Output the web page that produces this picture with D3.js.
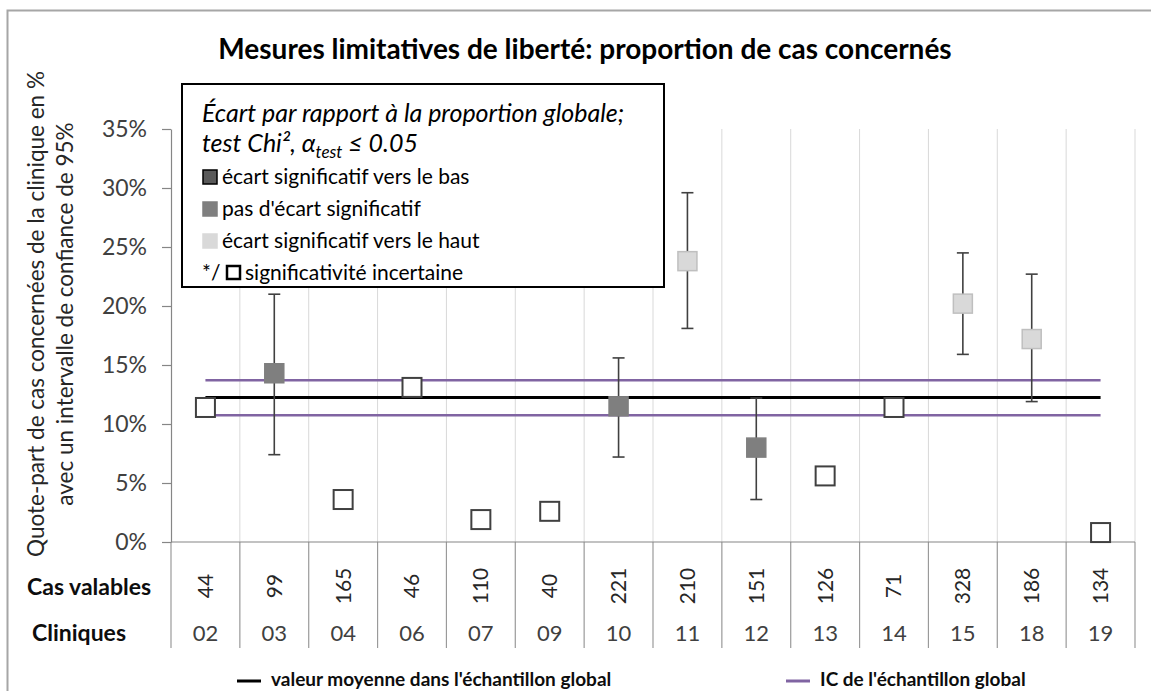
<!DOCTYPE html>
<html lang="fr">
<head>
    <meta charset="UTF-8">
    <title>Mesures limitatives de liberté</title>
    <style>
        body {
            margin: 0;
            padding: 0;
            background: #ffffff;
            font-family: Lato, "Open Sans", sans-serif;
        }
        svg text {
            font-family: Lato, "Open Sans", sans-serif;
        }
    </style>
</head>
<body>
<svg id="chart"></svg>

<script src="https://d3js.org/d3.v7.min.js"></script>
<script>
    // values
    var clinics = ["02", "03", "04", "06", "07", "09", "10", "11", "12", "13", "14", "15", "18", "19"];
    var validCases = [44, 99, 165, 46, 110, 40, 221, 210, 151, 126, 71, 328, 186, 134];
    var proportion = [11.4, 14.3, 3.6, 13.1, 1.9, 2.6, 11.5, 23.8, 8.0, 5.6, 11.4, 20.2, 17.2, 0.8];
    var ciLow = [null, 7.4, null, null, null, null, 7.2, 18.1, 3.6, null, null, 15.9, 11.9, null];
    var ciHigh = [null, 21.0, null, null, null, null, 15.6, 29.6, 12.2, null, null, 24.5, 22.7, null];
    var significance = ["uncertain", "none", "uncertain", "uncertain", "uncertain", "uncertain", "none",
        "above", "none", "uncertain", "uncertain", "above", "above", "uncertain"];
    var globalMean = 12.25;
    var globalCiLow = 10.75;
    var globalCiHigh = 13.7;
    var yTicks = [0, 5, 10, 15, 20, 25, 30, 35];

    var width = 1151, height = 691;
    var plot = {left: 171, right: 1135, top: 129, bottom: 542};
    var tableBottom = 648;

    var fills = {below: "#595959", none: "#7f7f7f", above: "#d9d9d9", uncertain: "#ffffff"};
    var strokes = {below: "#000000", none: "#7f7f7f", above: "#bfbfbf", uncertain: "#404040"};

    var data = clinics.map(function (c, i) {
        return {clinic: c, n: validCases[i], p: proportion[i], lo: ciLow[i], hi: ciHigh[i], sig: significance[i]};
    });

    var svg = d3.select("#chart")
        .attr("width", width)
        .attr("height", height);

    svg.append("rect")
        .attr("width", width).attr("height", height)
        .attr("fill", "#ffffff");

    // outer chart frame (right and bottom run off the picture)
    svg.append("rect")
        .attr("x", 7.5).attr("y", 10.5)
        .attr("width", 1200).attr("height", 1000)
        .attr("fill", "none")
        .attr("stroke", "#a6a6a6")
        .attr("stroke-width", 2);

    var x = d3.scaleBand()
        .domain(clinics)
        .range([plot.left, plot.right]);

    var y = d3.scaleLinear()
        .domain([0, 35])
        .range([plot.bottom, plot.top]);

    var bounds = d3.range(clinics.length + 1).map(function (i) {
        return plot.left + i * x.bandwidth();
    });
    var cx = function (d) { return x(d.clinic) + x.bandwidth() / 2; };

    // vertical grid lines
    svg.append("g").selectAll("line")
        .data(bounds.slice(1))
        .enter().append("line")
        .attr("x1", d => d).attr("x2", d => d)
        .attr("y1", plot.top).attr("y2", plot.bottom)
        .attr("stroke", "#d9d9d9")
        .attr("stroke-width", 1);

    // table dividers under the axis
    svg.append("g").selectAll("line")
        .data(bounds)
        .enter().append("line")
        .attr("x1", d => d).attr("x2", d => d)
        .attr("y1", plot.bottom).attr("y2", tableBottom)
        .attr("stroke", "#9a9a9a")
        .attr("stroke-width", 1.2);

    // y axis
    var yAxis = svg.append("g")
        .attr("transform", "translate(" + plot.left + ",0)")
        .call(d3.axisLeft(y).tickValues(yTicks).tickFormat(d => d + "%").tickSize(9).tickSizeOuter(0).tickPadding(15));
    yAxis.select(".domain").attr("stroke", "#868686").attr("stroke-width", 1.2);
    yAxis.selectAll(".tick line").attr("stroke", "#868686").attr("stroke-width", 1.2);
    yAxis.selectAll(".tick text")
        .attr("fill", "#404040")
        .style("font-size", "23px");

    // x axis line at 0%
    svg.append("line")
        .attr("x1", plot.left).attr("x2", plot.right)
        .attr("y1", y(0)).attr("y2", y(0))
        .attr("stroke", "#868686")
        .attr("stroke-width", 1.2);

    // reference lines for the global sample
    var xFirst = x(clinics[0]) + x.bandwidth() / 2;
    var xLast = x(clinics[clinics.length - 1]) + x.bandwidth() / 2;
    var refLines = [
        {v: globalCiHigh, color: "#8064a2", w: 2.5},
        {v: globalCiLow, color: "#8064a2", w: 2.5},
        {v: globalMean, color: "#000000", w: 3}
    ];
    svg.append("g").selectAll("line")
        .data(refLines)
        .enter().append("line")
        .attr("x1", xFirst).attr("x2", xLast)
        .attr("y1", d => y(d.v)).attr("y2", d => y(d.v))
        .attr("stroke", d => d.color)
        .attr("stroke-width", d => d.w);

    // error bars
    var withCi = data.filter(d => d.lo !== null);
    var eb = svg.append("g").attr("stroke", "#404040").attr("stroke-width", 1.6);
    eb.selectAll(".stem")
        .data(withCi)
        .enter().append("line")
        .attr("x1", cx).attr("x2", cx)
        .attr("y1", d => y(d.lo)).attr("y2", d => y(d.hi));
    eb.selectAll(".capLo")
        .data(withCi)
        .enter().append("line")
        .attr("x1", d => cx(d) - 6).attr("x2", d => cx(d) + 6)
        .attr("y1", d => y(d.lo)).attr("y2", d => y(d.lo));
    eb.selectAll(".capHi")
        .data(withCi)
        .enter().append("line")
        .attr("x1", d => cx(d) - 6).attr("x2", d => cx(d) + 6)
        .attr("y1", d => y(d.hi)).attr("y2", d => y(d.hi));

    // markers
    var ms = 19;
    svg.append("g").selectAll("rect")
        .data(data)
        .enter().append("rect")
        .attr("x", d => cx(d) - ms / 2)
        .attr("y", d => y(d.p) - ms / 2)
        .attr("width", ms).attr("height", ms)
        .attr("fill", d => fills[d.sig])
        .attr("stroke", d => strokes[d.sig])
        .attr("stroke-width", d => d.sig === "uncertain" ? 2 : 1.5);

    // table rows
    svg.append("g").selectAll("text")
        .data(data)
        .enter().append("text")
        .attr("transform", d => "translate(" + cx(d) + ",586) rotate(-90)")
        .attr("text-anchor", "middle")
        .attr("dy", "0.35em")
        .attr("fill", "#262626")
        .style("font-size", "21px")
        .text(d => d.n);

    svg.append("g").selectAll("text")
        .data(data)
        .enter().append("text")
        .attr("x", cx)
        .attr("y", 633)
        .attr("text-anchor", "middle")
        .attr("dy", "0.35em")
        .attr("fill", "#404040")
        .style("font-size", "22px")
        .text(d => d.clinic);

    svg.append("text")
        .attr("x", 27).attr("y", 587).attr("dy", "0.35em")
        .style("font-size", "23px").style("font-weight", "bold")
        .attr("fill", "#0d0d0d")
        .text("Cas valables");
    svg.append("text")
        .attr("x", 32).attr("y", 633).attr("dy", "0.35em")
        .style("font-size", "23px").style("font-weight", "bold")
        .attr("fill", "#0d0d0d")
        .text("Cliniques");

    // title
    svg.append("text")
        .attr("x", 585).attr("y", 59)
        .attr("text-anchor", "middle")
        .style("font-size", "28px").style("font-weight", "bold")
        .attr("fill", "#000000")
        .text("Mesures limitatives de liberté: proportion de cas concernés");

    // y axis title
    var yTitle = ["Quote-part de cas concernées de la clinique en %", "avec un intervalle de confiance de 95%"];
    svg.append("g").selectAll("text")
        .data(yTitle)
        .enter().append("text")
        .attr("transform", (d, i) => "translate(" + (36 + i * 29) + ",314) rotate(-90)")
        .attr("text-anchor", "middle")
        .attr("dy", "0.35em")
        .attr("fill", "#262626")
        .style("font-size", "22.5px")
        .text(d => d);

    // legend box
    var lg = svg.append("g");
    lg.append("rect")
        .attr("x", 182).attr("y", 84)
        .attr("width", 482).attr("height", 203)
        .attr("fill", "#ffffff")
        .attr("stroke", "#000000")
        .attr("stroke-width", 2);
    lg.append("text")
        .attr("x", 202).attr("y", 113).attr("dy", "0.35em")
        .style("font-size", "25px").style("font-style", "italic")
        .attr("fill", "#000000")
        .text("Écart par rapport à la proportion globale;");
    var l2 = lg.append("text")
        .attr("x", 202).attr("y", 143).attr("dy", "0.35em")
        .style("font-size", "25px").style("font-style", "italic")
        .attr("fill", "#000000");
    l2.append("tspan").text("test Chi², α");
    l2.append("tspan").attr("dy", "6").style("font-size", "17px").text("test");
    l2.append("tspan").attr("dy", "-6").text(" ≤ 0.05");

    var legendItems = [
        {label: "écart significatif vers le bas", sig: "below", cy: 177},
        {label: "pas d'écart significatif", sig: "none", cy: 209},
        {label: "écart significatif vers le haut", sig: "above", cy: 241}
    ];
    lg.selectAll(".item-sq")
        .data(legendItems)
        .enter().append("rect")
        .attr("x", 203).attr("y", d => d.cy - 7)
        .attr("width", 14).attr("height", 14)
        .attr("fill", d => fills[d.sig])
        .attr("stroke", d => d.sig === "below" ? "#000000" : fills[d.sig])
        .attr("stroke-width", 1.5);
    lg.selectAll(".item-tx")
        .data(legendItems)
        .enter().append("text")
        .attr("x", 222).attr("y", d => d.cy).attr("dy", "0.35em")
        .style("font-size", "21px")
        .attr("fill", "#000000")
        .text(d => d.label);
    lg.append("text")
        .attr("x", 202).attr("y", 273).attr("dy", "0.35em")
        .style("font-size", "21px")
        .attr("fill", "#000000")
        .text("*/");
    lg.append("rect")
        .attr("x", 227).attr("y", 266)
        .attr("width", 13).attr("height", 13)
        .attr("fill", "#ffffff")
        .attr("stroke", "#000000")
        .attr("stroke-width", 2.5);
    lg.append("text")
        .attr("x", 245).attr("y", 273).attr("dy", "0.35em")
        .style("font-size", "21px")
        .attr("fill", "#000000")
        .text("significativité incertaine");

    // bottom legend for the reference lines
    var bottomLegend = [
        {label: "valeur moyenne dans l'échantillon global", color: "#000000", x: 237},
        {label: "IC de l'échantillon global", color: "#8064a2", x: 786}
    ];
    var bl = svg.append("g").selectAll("g")
        .data(bottomLegend)
        .enter().append("g");
    bl.append("line")
        .attr("x1", d => d.x).attr("x2", d => d.x + 24)
        .attr("y1", 681).attr("y2", 681)
        .attr("stroke", d => d.color)
        .attr("stroke-width", 3);
    bl.append("text")
        .attr("x", d => d.x + 34).attr("y", 686)
        .style("font-size", "19px").style("font-weight", "bold")
        .attr("fill", "#0d0d0d")
        .text(d => d.label);
</script>
</body>
</html>
